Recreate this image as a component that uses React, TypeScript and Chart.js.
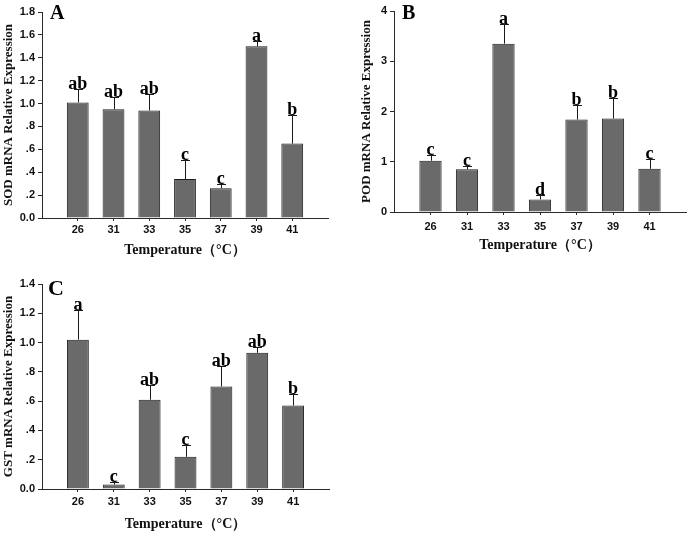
import React, { useEffect, useRef } from 'react';
import { Chart, registerables } from 'chart.js';

Chart.register(...registerables);

// ---- data ----
const temperatures = ['26', '31', '33', '35', '37', '39', '41'];

const sodMeans = [1.01, 0.95, 0.94, 0.34, 0.26, 1.5, 0.65];
const sodErrors = [0.12, 0.11, 0.14, 0.17, 0.04, 0.05, 0.25];
const sodLetters = ['ab', 'ab', 'ab', 'c', 'c', 'a', 'b'];

const podMeans = [1.02, 0.85, 3.35, 0.25, 1.84, 1.86, 0.86];
const podErrors = [0.12, 0.07, 0.39, 0.09, 0.28, 0.4, 0.19];
const podLetters = ['c', 'c', 'a', 'd', 'b', 'b', 'c'];

const gstMeans = [1.02, 0.03, 0.61, 0.22, 0.7, 0.93, 0.57];
const gstErrors = [0.2, 0.015, 0.1, 0.08, 0.14, 0.04, 0.08];
const gstLetters = ['a', 'c', 'ab', 'c', 'ab', 'ab', 'b'];

const xTitle = 'Temperature\uFF08\u00B0C\uFF09';

const AXIS = '#2a2a2a';
const BAR_FILL = '#6a6a6a';
const BAR_EDGE = '#1c1c1c';
const SERIF = '"Liberation Serif", "Times New Roman", serif';
const SANS = '"Liberation Sans", Arial, sans-serif';

const annotPlugin = {
  id: 'annot',
  afterDatasetsDraw(chart: any, _args: any, opts: any) {
    const ctx = chart.ctx;
    const meta = chart.getDatasetMeta(0);
    const yScale = chart.scales.y;
    ctx.save();
    ctx.strokeStyle = '#1a1a1a';
    ctx.lineWidth = 1;
    meta.data.forEach((bar: any, i: number) => {
      const x = Math.round(bar.x) + 0.5;
      const yTop = Math.round(yScale.getPixelForValue(opts.means[i] + opts.errors[i])) + 0.5;
      ctx.beginPath();
      ctx.moveTo(x, bar.y);
      ctx.lineTo(x, yTop);
      ctx.moveTo(x - 4.5, yTop);
      ctx.lineTo(x + 4.5, yTop);
      ctx.stroke();
      ctx.fillStyle = '#000';
      ctx.font = `bold 18px ${SERIF}`;
      ctx.textAlign = 'center';
      ctx.textBaseline = 'alphabetic';
      ctx.fillText(opts.letters[i], bar.x, yTop - 1);
    });
    const ca = chart.chartArea;
    ctx.font = `bold ${opts.labelSize}px ${SERIF}`;
    ctx.textAlign = 'left';
    ctx.fillText(opts.label, ca.left + opts.labelDx, ca.top + opts.labelDy);
    ctx.restore();
  },
};

type PanelProps = {
  left: number;
  top: number;
  width: number;
  height: number;
  label: string;
  labelSize: number;
  labelDx: number;
  labelDy: number;
  yTitle: string;
  means: number[];
  errors: number[];
  letters: string[];
  yMax: number;
  yStep: number;
  decimals: number;
  padTop: number;
  padRight: number;
  yAxisWidth: number;
  xAxisHeight: number;
  yTitlePad: number;
  xTitlePad: number;
  xTickPad: number;
};

function fmtTick(raw: number, decimals: number) {
  const v = Math.round(raw * 1000) / 1000;
  let s = v.toFixed(decimals);
  if (decimals > 0 && v > 0 && v < 1) s = s.slice(1);
  return s;
}

function Panel(p: PanelProps) {
  const ref = useRef<HTMLCanvasElement>(null);
  useEffect(() => {
    if (!ref.current) return;
    const chart = new Chart(ref.current, {
      type: 'bar',
      data: {
        datasets: [
          {
            data: p.means.map((m, i) => ({ x: i, y: m })),
            backgroundColor: BAR_FILL,
            borderColor: BAR_EDGE,
            borderWidth: 1,
            barPercentage: 0.61,
            categoryPercentage: 1,
          },
        ],
      },
      options: {
        responsive: false,
        animation: false,
        events: [],
        layout: { padding: { top: p.padTop, right: p.padRight, bottom: 0, left: 0 } },
        plugins: {
          legend: { display: false },
          tooltip: { enabled: false },
          annot: {
            means: p.means,
            errors: p.errors,
            letters: p.letters,
            label: p.label,
            labelSize: p.labelSize,
            labelDx: p.labelDx,
            labelDy: p.labelDy,
          },
        } as any,
        scales: {
          x: {
            type: 'linear',
            min: -1,
            max: temperatures.length,
            offset: false,
            afterFit: (s: any) => {
              s.height = p.xAxisHeight;
            },
            grid: {
              offset: false,
              drawOnChartArea: false,
              drawTicks: true,
              tickLength: 3,
              color: (c: any) =>
                c.tick && c.tick.value >= 0 && c.tick.value < temperatures.length ? AXIS : 'rgba(0,0,0,0)',
            },
            border: { display: true, color: AXIS, width: 1 },
            ticks: {
              stepSize: 1,
              autoSkip: false,
              maxRotation: 0,
              padding: p.xTickPad,
              color: '#111',
              font: { family: SANS, size: 11, weight: 'bold' },
              callback: (v: any) => temperatures[v as number] ?? '',
            },
            title: {
              display: true,
              text: xTitle,
              color: '#111',
              font: { family: SERIF, size: 14, weight: 'bold' },
              padding: { top: 0, bottom: p.xTitlePad },
            },
          } as any,
          y: {
            min: 0,
            max: p.yMax,
            afterFit: (s: any) => {
              s.width = p.yAxisWidth;
            },
            grid: {
              drawOnChartArea: false,
              drawTicks: true,
              tickLength: 4,
              color: AXIS,
            },
            border: { display: true, color: AXIS, width: 1 },
            ticks: {
              stepSize: p.yStep,
              padding: 3,
              color: '#111',
              font: { family: SANS, size: 11, weight: 'bold' },
              callback: (v: any) => fmtTick(Number(v), p.decimals),
            },
            title: {
              display: true,
              text: p.yTitle,
              color: '#111',
              font: { family: SERIF, size: 13, weight: 'bold' },
              padding: { top: p.yTitlePad, bottom: 0 },
            },
          } as any,
        },
      },
      plugins: [annotPlugin as any],
    });
    return () => chart.destroy();
  }, []);
  return (
    <canvas
      ref={ref}
      width={p.width}
      height={p.height}
      style={{ position: 'absolute', left: p.left, top: p.top, width: p.width, height: p.height, display: 'block' }}
    />
  );
}

export default function App() {
  return (
    <div style={{ position: 'absolute', left: 0, top: 0, width: 691, height: 533, background: '#fff', overflow: 'hidden' }}>
      <Panel
        left={0}
        top={0}
        width={345}
        height={260}
        label="A"
        labelSize={20}
        labelDx={8}
        labelDy={7}
        yTitle="SOD mRNA Relative Expression"
        means={sodMeans}
        errors={sodErrors}
        letters={sodLetters}
        yMax={1.8}
        yStep={0.2}
        decimals={1}
        padTop={12}
        padRight={17}
        yAxisWidth={42}
        xAxisHeight={42}
        yTitlePad={1}
        xTitlePad={1}
        xTickPad={2}
      />
      <Panel
        left={345}
        top={0}
        width={346}
        height={260}
        label="B"
        labelSize={20}
        labelDx={8}
        labelDy={8}
        yTitle="POD mRNA Relative Expression"
        means={podMeans}
        errors={podErrors}
        letters={podLetters}
        yMax={4}
        yStep={1}
        decimals={0}
        padTop={11}
        padRight={1}
        yAxisWidth={49}
        xAxisHeight={48}
        yTitlePad={14}
        xTitlePad={6}
        xTickPad={5}
      />
      <Panel
        left={0}
        top={260}
        width={345}
        height={273}
        label="C"
        labelSize={22}
        labelDx={6}
        labelDy={11}
        yTitle="GST mRNA Relative Expression"
        means={gstMeans}
        errors={gstErrors}
        letters={gstLetters}
        yMax={1.4}
        yStep={0.2}
        decimals={1}
        padTop={24}
        padRight={16}
        yAxisWidth={42}
        xAxisHeight={44}
        yTitlePad={1}
        xTitlePad={0}
        xTickPad={3}
      />
    </div>
  );
}
